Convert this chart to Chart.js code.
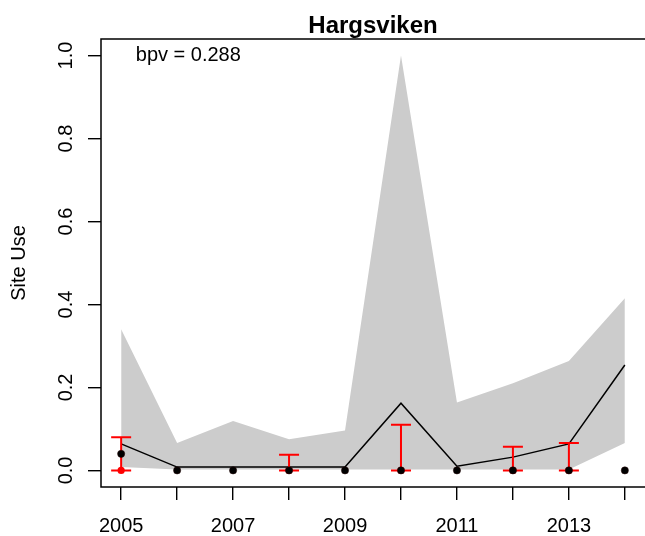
<!DOCTYPE html>
<html lang="en">
<head>
  <meta charset="UTF-8" />
  <title>Hargsviken</title>
  <script src="https://cdn.jsdelivr.net/npm/chart.js"></script>
  <style>
    body { margin: 0; background: #fff; }
    canvas { display: block; }
  </style>
</head>
<body>
  <canvas id="chart" width="645" height="536"></canvas>

  <script>
    // Years on the x axis
    const years = [2005, 2006, 2007, 2008, 2009, 2010, 2011, 2012, 2013, 2014];
    // Grey band (lower / upper bound of predicted site use)
    const bandLower = [0.008, 0.002, 0.002, 0.002, 0.002, 0.002, 0.002, 0.002, 0.002, 0.066];
    const bandUpper = [0.34, 0.066, 0.119, 0.075, 0.096, 1.0, 0.164, 0.21, 0.264, 0.415];
    // Black line: mean prediction
    const meanUse = [0.064, 0.008, 0.008, 0.008, 0.008, 0.162, 0.01, 0.032, 0.064, 0.254];
    // Black dots: observed
    const observed = [0.04, 0, 0, 0, 0, 0, 0, 0, 0, 0];
    // Red error bars: year, low, high
    const errYears = [2005, 2008, 2010, 2012, 2013];
    const errLow = [0, 0, 0, 0, 0];
    const errHigh = [0.08, 0.038, 0.11, 0.057, 0.066];
    // Tick labels
    const yTicks = [0, 0.2, 0.4, 0.6, 0.8, 1.0];
    const xLabelYears = [2005, 2007, 2009, 2011, 2013];

    const FONT = "'Liberation Sans', Arial, Helvetica, sans-serif";
    const pts = (ys, xs) => ys.map((y, i) => ({ x: (xs || years)[i], y: y }));

    // draws the R-style extras: error bars, box, title, rotated y labels
    const rPlot = {
      id: 'rPlot',
      afterDatasetDraw(chart, args) {
        if (args.index !== 2) return; // right after the mean line
        const ctx = chart.ctx, xs = chart.scales.x, ys = chart.scales.y;
        ctx.save();
        ctx.strokeStyle = '#ff0000';
        ctx.lineWidth = 2;
        errYears.forEach((yr, i) => {
          const px = xs.getPixelForValue(yr);
          const lo = ys.getPixelForValue(errLow[i]);
          const hi = ys.getPixelForValue(errHigh[i]);
          ctx.beginPath();
          ctx.moveTo(px, lo); ctx.lineTo(px, hi);
          ctx.moveTo(px - 10, lo); ctx.lineTo(px + 10, lo);
          ctx.moveTo(px - 10, hi); ctx.lineTo(px + 10, hi);
          ctx.stroke();
        });
        ctx.restore();
      },
      afterDraw(chart) {
        const ctx = chart.ctx, a = chart.chartArea, ys = chart.scales.y, xs = chart.scales.x;
        ctx.save();
        // box (right side falls just off the canvas, as in the original)
        ctx.strokeStyle = '#000';
        ctx.lineWidth = 1.5;
        ctx.strokeRect(a.left, a.top, a.right - a.left + 2, a.bottom - a.top);
        ctx.fillStyle = '#000';
        // title
        ctx.font = 'bold 24px ' + FONT;
        ctx.textAlign = 'center';
        ctx.textBaseline = 'alphabetic';
        ctx.fillText('Hargsviken', (a.left + a.right) / 2, 33);
        // bpv note
        ctx.font = '20px ' + FONT;
        ctx.textBaseline = 'middle';
        ctx.fillText('bpv = 0.288', xs.getPixelForValue(2006.2), ys.getPixelForValue(1.0));
        // y tick labels, parallel to the axis
        ctx.textBaseline = 'alphabetic';
        yTicks.forEach(v => {
          ctx.save();
          ctx.translate(72, ys.getPixelForValue(v));
          ctx.rotate(-Math.PI / 2);
          ctx.fillText(v.toFixed(1), 0, 0);
          ctx.restore();
        });
        // y axis title
        ctx.save();
        ctx.translate(25, (a.top + a.bottom) / 2);
        ctx.rotate(-Math.PI / 2);
        ctx.fillText('Site Use', 0, 0);
        ctx.restore();
        ctx.restore();
      }
    };

    new Chart(document.getElementById('chart'), {
      type: 'line',
      data: {
        datasets: [
          { data: pts(bandLower), borderWidth: 0, pointRadius: 0, fill: false, order: 5 },
          { data: pts(bandUpper), borderWidth: 0, pointRadius: 0,
            backgroundColor: '#cccccc', fill: '-1', order: 5 },
          { data: pts(meanUse), borderColor: '#000', borderWidth: 1.5, pointRadius: 0, fill: false, order: 3 },
          { data: pts(errLow, errYears), showLine: false, pointRadius: 3.6,
            pointBackgroundColor: '#ff0000', pointBorderWidth: 0, order: 2 },
          { data: pts(observed), showLine: false, pointRadius: 3.6,
            pointBackgroundColor: '#000', pointBorderColor: '#200000', pointBorderWidth: 0.5, order: 1 }
        ]
      },
      options: {
        responsive: false,
        animation: false,
        layout: { autoPadding: false, padding: { top: 39, left: 0, right: 0, bottom: 0 } },
        plugins: { legend: { display: false }, tooltip: { enabled: false } },
        scales: {
          x: {
            type: 'linear',
            min: 2004.64,
            max: 2014.36,
            afterBuildTicks: s => { s.ticks = years.map(v => ({ value: v })); },
            afterFit: s => { s.height = 49; },
            border: { display: false },
            grid: { drawOnChartArea: false, drawTicks: true, tickLength: 13, color: '#000', lineWidth: 1.4 },
            ticks: {
              autoSkip: false, maxRotation: 0, padding: 14, color: '#000',
              font: { family: FONT, size: 20 },
              callback: v => xLabelYears.includes(v) ? String(v) : ''
            }
          },
          y: {
            min: -0.04,
            max: 1.04,
            afterBuildTicks: s => { s.ticks = yTicks.map(v => ({ value: v })); },
            afterFit: s => { s.width = 101; },
            border: { display: false },
            grid: { drawOnChartArea: false, drawTicks: true, tickLength: 13, color: '#000', lineWidth: 1.4 },
            ticks: { display: false }
          }
        }
      },
      plugins: [rPlot]
    });
  </script>
</body>
</html>
